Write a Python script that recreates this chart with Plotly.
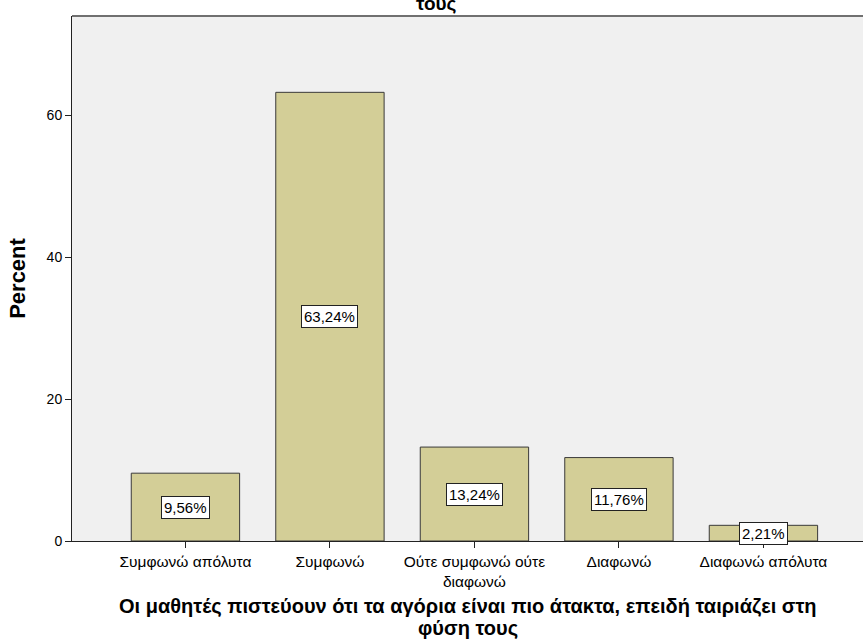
import plotly.graph_objects as go

categories = ["Συμφωνώ απόλυτα", "Συμφωνώ", "Ούτε συμφωνώ ούτε<br>διαφωνώ", "Διαφωνώ", "Διαφωνώ απόλυτα"]
percents = [9.56, 63.24, 13.24, 11.76, 2.21]
labels = ["9,56%", "63,24%", "13,24%", "11,76%", "2,21%"]
y_ticks = [0, 20, 40, 60]
x_title_lines = ["Οι μαθητές πιστεύουν ότι τα αγόρια είναι πιο άτακτα, επειδή ταιριάζει στη", "φύση τους"]
top_title_tail = "τους"

FONT = "Liberation Sans, Arial, sans-serif"

L, T, B, R = 72, 16, 98, 0
W, H = 863, 639
PLOT_W = W - L - R
PLOT_H = H - T - B

fig = go.Figure()
fig.add_trace(go.Bar(
    x=list(range(len(categories))),
    y=percents,
    width=0.75,
    marker=dict(color="#d3ce97", line=dict(color="#3a3a3a", width=1)),
    hoverinfo="skip",
))

for i, (v, lab) in enumerate(zip(percents, labels)):
    fig.add_annotation(
        x=i, y=v / 2, xref="x", yref="y", text=lab, showarrow=False,
        font=dict(family=FONT, size=15, color="black"),
        bgcolor="white", bordercolor="#222222", borderwidth=1, borderpad=2,
    )

# top title remnant (cut off by the image edge)
fig.add_annotation(
    x=(436 - L) / PLOT_W, y=1, xref="paper", yref="paper", text="<b>" + top_title_tail + "</b>",
    showarrow=False, font=dict(family=FONT, size=19, color="black"),
    yanchor="bottom", xanchor="center", yshift=0,
)

# x-axis title, two lines with tight spacing
for line, page_y in zip(x_title_lines, [606, 628]):
    fig.add_annotation(
        x=0.5, y=0, xref="paper", yref="paper", text="<b>" + line + "</b>", showarrow=False,
        font=dict(family=FONT, size=20, color="black"),
        xanchor="center", yanchor="middle", yshift=-(page_y - (H - B)),
    )

fig.update_layout(
    width=W, height=H,
    margin=dict(l=L, r=R, t=T, b=B),
    paper_bgcolor="white",
    plot_bgcolor="#f0f0f0",
    showlegend=False,
    font=dict(family=FONT, size=15, color="black"),
    xaxis=dict(
        range=[-0.785, -0.785 + PLOT_W / 144.5],
        tickmode="array", tickvals=list(range(len(categories))), ticktext=categories,
        ticks="outside", ticklen=6, tickcolor="#222222",
        showline=True, linecolor="#222222", linewidth=1,
        showgrid=False, zeroline=False,
        tickfont=dict(family=FONT, size=15.5),
    ),
    yaxis=dict(
        range=[0, 74],
        tickmode="array", tickvals=y_ticks,
        ticks="outside", ticklen=6, tickcolor="#222222",
        showline=True, linecolor="#222222", linewidth=1,
        showgrid=False, zeroline=False,
        tickfont=dict(family=FONT, size=14),
        title=dict(text="<b>Percent</b>", font=dict(family=FONT, size=22), standoff=14),
    ),
)

# top border of the plot frame
fig.add_shape(type="line", xref="paper", yref="paper", x0=0, x1=1, y0=1, y1=1,
              line=dict(color="#707070", width=2))

fig.write_html("out.html", config={"displayModeBar": False},
               post_script="document.body.style.margin='0';")
